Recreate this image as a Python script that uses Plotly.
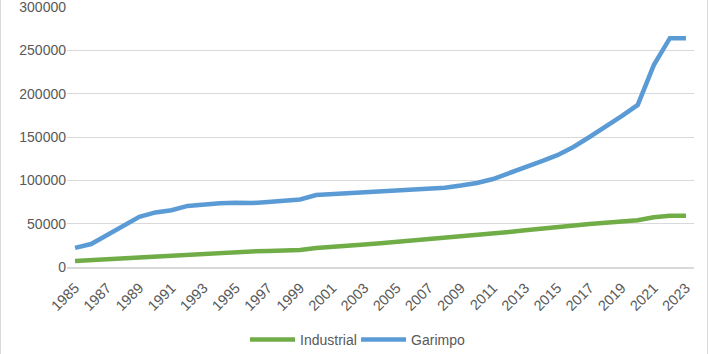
import plotly.graph_objects as go

years = [str(y) for y in range(1985, 2024)]
industrial = [7000, 8000, 9000, 10500, 12000, 13000, 14000, 15000, 16000, 16500,
              17000, 18000, 18500, 19000, 19500, 22000, 23000, 24500, 26000, 27500,
              29000, 30500, 32500, 34500, 36000, 37500, 39000, 40500, 42500, 44500,
              46000, 48000, 49500, 51000, 52500, 54000, 57500, 59000, 59000]
garimpo = [22000, 26500, 37000, 47000, 58000, 63000, 65500, 70500, 72500, 73500,
           74000, 73800, 75000, 76500, 78000, 83000, 84000, 85000, 85800, 86500,
           87300, 88200, 89500, 91500, 94000, 97000, 101500, 108000, 115500, 122000,
           129000, 138500, 150000, 161500, 174000, 187000, 233000, 264000, 264000]
tick_years = years[::2]
y_ticks = [0, 50000, 100000, 150000, 200000, 250000, 300000]

font_fam = "Liberation Sans, Arial, sans-serif"
txt = "#595959"

fig = go.Figure()
fig.add_trace(go.Scatter(x=years, y=industrial, name="Industrial", mode="lines",
                         line=dict(color="#70AD47", width=4.5), legend="legend"))
fig.add_trace(go.Scatter(x=years, y=garimpo, name="Garimpo", mode="lines",
                         line=dict(color="#5B9BD5", width=4.5), legend="legend2"))

leg_common = dict(orientation="h", xanchor="left", y=-0.28, yanchor="middle",
                  font=dict(size=14, color=txt), itemwidth=45, bgcolor="rgba(0,0,0,0)")

fig.update_layout(
    width=709, height=354,
    margin=dict(l=67, r=15, t=7, b=87, autoexpand=False),
    paper_bgcolor="white", plot_bgcolor="white",
    font=dict(family=font_fam, size=13, color=txt),
    showlegend=True,
    legend=dict(x=0.2839, **leg_common),
    legend2=dict(x=0.4610, **leg_common),
    xaxis=dict(type="category", range=[-0.5, len(years) - 0.5], automargin=False,
               tickmode="array", tickvals=tick_years, ticktext=tick_years,
               tickangle=-45, showgrid=False, showline=True, linecolor="#D9D9D9",
               linewidth=1.5, ticks="", ticklabelstandoff=5,
               tickfont=dict(size=14.5, color=txt)),
    yaxis=dict(range=[0, 300000], tickmode="array", tickvals=y_ticks, automargin=False,
               ticktext=[str(v) for v in y_ticks], ticklabeloverflow="allow",
               showgrid=True, gridcolor="#D9D9D9", gridwidth=1, zeroline=False,
               showline=False, ticks="", tickfont=dict(size=14, color=txt)),
)
fig.add_shape(type="line", xref="paper", yref="paper", x0=-0.106, x1=-0.106, y0=-0.35, y1=1.03,
              line=dict(color="#D9D9D9", width=1))
fig.add_shape(type="line", xref="paper", yref="paper", x0=1.0215, x1=1.0215, y0=-0.35, y1=1.03,
              line=dict(color="#D9D9D9", width=1))
fig.write_html("out.html")
